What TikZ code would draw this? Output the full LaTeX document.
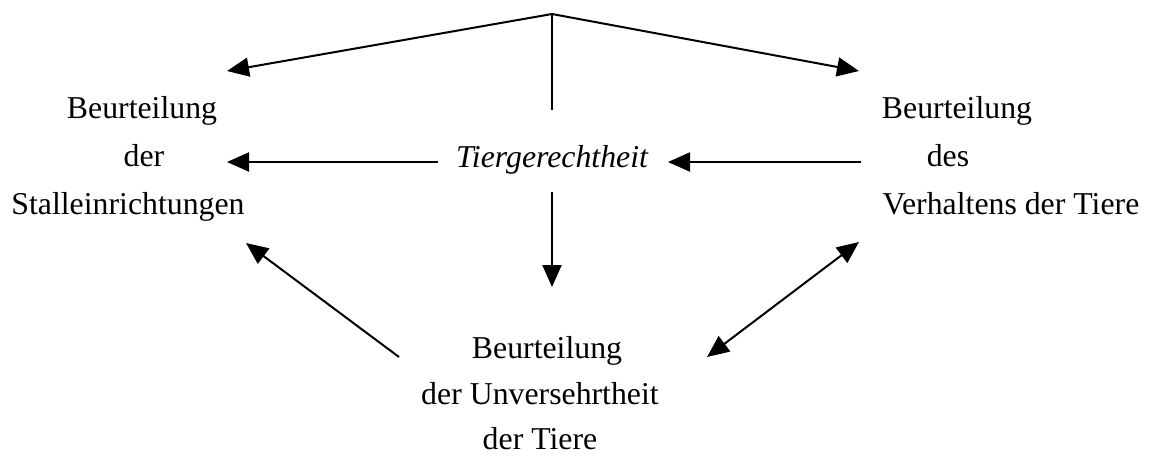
\documentclass[tikz,border=0pt]{standalone}
\usepackage{fontspec}
\setmainfont{Liberation Serif}
\usetikzlibrary{arrows.meta}

\tikzset{
  txt/.style={anchor=base, inner sep=0pt, font=\fontsize{15.9pt}{19pt}\selectfont},
  link/.style={line width=1pt, -{Triangle[length=11pt,width=9.5pt]}},
  twolink/.style={line width=1pt, {Triangle[length=11pt,width=9.5pt]}-{Triangle[length=11pt,width=9.5pt]}},
}

\begin{document}
\begin{tikzpicture}[x=0.5pt, y=-0.5pt]
  \useasboundingbox (0,0) rectangle (1153,456);
  % Texte links
  \node[txt] (lbeur)  at (142,118) {Beurteilung};
  \node[txt] (lder)   at (144,166) {der};
  \node[txt] (lstall) at (128,214) {Stalleinrichtungen};
  % Texte rechts
  \node[txt] (rbeur)  at (957,118) {Beurteilung};
  \node[txt] (rdes)   at (948,166) {des};
  \node[txt] (rverh)  at (1011,214) {Verhaltens der Tiere};
  % Mitte
  \node[txt] (tg) at (552,167) {\itshape Tiergerechtheit};
  % Texte unten
  \node[txt] (ubeur) at (547,358) {Beurteilung};
  \node[txt] (uunv)  at (540,404) {der Unversehrtheit};
  \node[txt] (utier) at (540,449) {der Tiere};
  % Endpunkte
  \coordinate (apex)  at (552,14);
  \coordinate (stem)  at (552,110);
  \coordinate (topl)  at (227,71);
  \coordinate (topr)  at (859,71);
  \coordinate (midl)  at (227,162);
  \coordinate (tgl)   at (438,162);
  \coordinate (tgr)   at (668,162);
  \coordinate (midr)  at (861,162);
  \coordinate (tgd)   at (552,192);
  \coordinate (down)  at (552,287);
  \coordinate (diagl) at (246,243);
  \coordinate (footl) at (399,357);
  \coordinate (footr) at (707,357);
  \coordinate (diagr) at (859,242);
  % Pfeile
  \draw[link] (apex) -- (topl);
  \draw[link] (apex) -- (topr);
  \draw[line width=1pt] (apex) -- (stem);
  \draw[link] (tgl) -- (midl);
  \draw[link] (midr) -- (tgr);
  \draw[link] (tgd) -- (down);
  \draw[link] (footl) -- (diagl);
  \draw[twolink] (footr) -- (diagr);
\end{tikzpicture}
\end{document}
